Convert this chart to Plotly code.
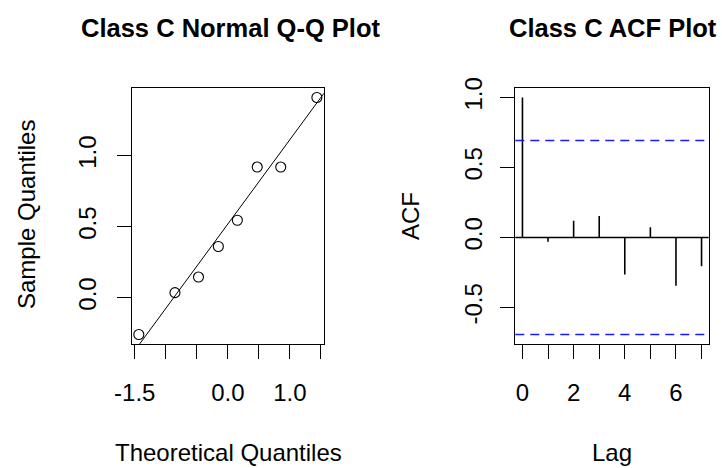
import plotly.graph_objects as go
import numpy as np
from statistics import NormalDist

# Class C residual sample: theoretical normal quantiles vs sorted sample values
theoretical_q = [-1.434, -0.852, -0.473, -0.153, 0.153, 0.473, 0.852, 1.434]
sample_q = [-0.26, 0.035, 0.145, 0.36, 0.545, 0.92, 0.92, 1.41]

# Autocorrelation by lag
lags = [0, 1, 2, 3, 4, 5, 6, 7]
acf_vals = [1.0, -0.03, 0.12, 0.153, -0.264, 0.074, -0.345, -0.206]
n_obs = 8

qq_xticks = [-1.5, -1.0, -0.5, 0.0, 0.5, 1.0, 1.5]
qq_xlabels = ["-1.5", "", "", "0.0", "", "1.0", ""]
qq_yticks = [0.0, 0.5, 1.0]
qq_ylabels = ["0.0", "0.5", "1.0"]
lag_labels = ["0", "", "2", "", "4", "", "6", ""]
acf_yticks = [-0.5, 0.0, 0.5, 1.0]
acf_ylabels = ["-0.5", "0.0", "0.5", "1.0"]

FONT = "Liberation Sans, Arial, sans-serif"
W, H = 722, 468


def padded(lo, hi, frac=0.04):
    d = (hi - lo) * frac
    return [lo - d, hi + d]


# reference line through the first and third quartiles
nd = NormalDist()
y25, y75 = np.quantile(sample_q, [0.25, 0.75])
x25, x75 = nd.inv_cdf(0.25), nd.inv_cdf(0.75)
slope = (y75 - y25) / (x75 - x25)
intercept = y25 - slope * x25

qq_xrange = padded(min(theoretical_q), max(theoretical_q))
qq_yrange = padded(min(sample_q), max(sample_q))

clim = NormalDist().inv_cdf(0.975) / np.sqrt(n_obs)
acf_xrange = padded(min(lags), max(lags))
acf_yrange = padded(min(min(acf_vals), -clim), max(max(acf_vals), clim))

fig = go.Figure()

# Q-Q line (clipped by the plot area)
fig.add_trace(go.Scatter(
    x=qq_xrange, y=[intercept + slope * v for v in qq_xrange],
    mode="lines", line=dict(color="black", width=1),
    xaxis="x", yaxis="y", hoverinfo="skip", showlegend=False))

fig.add_trace(go.Scatter(
    x=theoretical_q, y=sample_q, mode="markers",
    marker=dict(symbol="circle-open", size=10, color="black",
                line=dict(width=1.1, color="black")),
    xaxis="x", yaxis="y", showlegend=False, cliponaxis=False))

# ACF spikes
sx, sy = [], []
for lag, v in zip(lags, acf_vals):
    sx += [lag, lag, None]
    sy += [0, v, None]
fig.add_trace(go.Scatter(
    x=sx, y=sy, mode="lines", line=dict(color="black", width=1.6),
    xaxis="x2", yaxis="y2", showlegend=False, hoverinfo="skip"))

shapes = [
    dict(type="line", xref="x2 domain", yref="y2", x0=0, x1=1, y0=0, y1=0,
         line=dict(color="black", width=1.3)),
    dict(type="line", xref="x2 domain", yref="y2", x0=0, x1=1, y0=clim, y1=clim,
         line=dict(color="#1a1aff", width=1.4, dash="9px,6px")),
    dict(type="line", xref="x2 domain", yref="y2", x0=0, x1=1, y0=-clim, y1=-clim,
         line=dict(color="#1a1aff", width=1.4, dash="9px,6px")),
]

axis_common = dict(
    showgrid=False, zeroline=False, showline=True, mirror=True,
    linecolor="black", linewidth=1.3, ticks="outside", ticklen=14,
    tickwidth=1.3, tickcolor="black", automargin=False,
    tickfont=dict(family=FONT, size=24, color="black"),
)

ydom = [(H - 344) / H, (H - 88) / H]

fig.update_layout(
    width=W, height=H, margin=dict(l=0, r=0, t=0, b=0),
    paper_bgcolor="white", plot_bgcolor="white",
    xaxis=dict(domain=[131.7 / W, 324 / W], range=qq_xrange,
               tickmode="array", tickvals=qq_xticks, ticktext=qq_xlabels,
               anchor="y", ticklabelstandoff=13, **axis_common),
    yaxis=dict(domain=ydom, range=qq_yrange, tickmode="array",
               tickvals=qq_yticks, ticktext=qq_ylabels, tickangle=-90,
               anchor="x", ticklabelstandoff=11, **axis_common),
    xaxis2=dict(domain=[515.3 / W, 708.7 / W], range=acf_xrange,
                tickmode="array", tickvals=lags, ticktext=lag_labels,
                anchor="y2", ticklabelstandoff=13, **axis_common),
    yaxis2=dict(domain=ydom, range=acf_yrange, tickmode="array",
                tickvals=acf_yticks, ticktext=acf_ylabels, tickangle=-90,
                anchor="x2", ticklabelstandoff=9, **axis_common),
    shapes=shapes,
)

def label(text, x, y, size=24, bold=False, angle=0):
    fig.add_annotation(
        text=f"<b>{text}</b>" if bold else text,
        x=x / W, y=1 - y / H, xref="paper", yref="paper",
        xanchor="center", yanchor="middle", showarrow=False,
        textangle=angle, font=dict(family=FONT, size=size, color="black"))

label("Class C Normal Q-Q Plot", 230.5, 28, size=25.5, bold=True)
label("Class C ACF Plot", 613, 28, size=25.5, bold=True)
label("Theoretical Quantiles", 228, 452)
label("Lag", 612, 452)
label("Sample Quantiles", 27, 215, angle=-90)
label("ACF", 410, 216, angle=-90)

fig.write_html("out.html")
